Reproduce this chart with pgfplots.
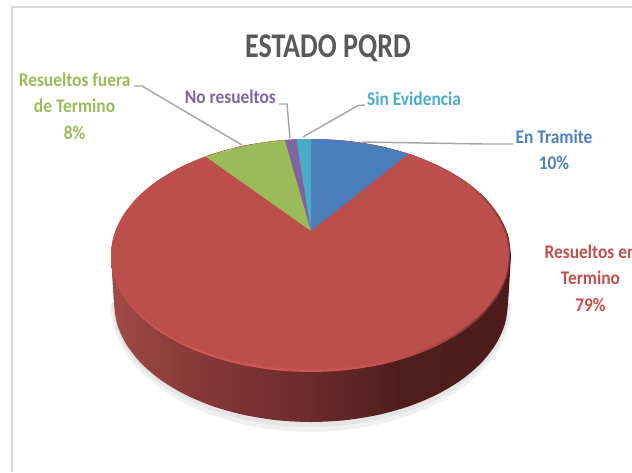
\documentclass[border=0pt]{standalone}
\usepackage{pgfplots}
\pgfplotsset{compat=1.18}
\usepackage{fontspec}
\setmainfont{Carlito}
\definecolor{cTitle}{HTML}{595959}
\definecolor{cBlue}{HTML}{4A7EBB}
\definecolor{cRed}{HTML}{BC4E4C}
\definecolor{cGreen}{HTML}{9BBB59}
\definecolor{cPurple}{HTML}{8064A2}
\definecolor{cTeal}{HTML}{4BACC6}
\definecolor{cLabBlue}{HTML}{4F81BD}
\definecolor{cLabRed}{HTML}{C0504D}
\definecolor{cLead}{HTML}{A6A6A6}
\definecolor{cFrame}{HTML}{D9D9D9}
\definecolor{sA}{RGB}{160,75,70}
\definecolor{sB}{RGB}{138,59,57}
\definecolor{sC}{RGB}{108,42,42}
\definecolor{sD}{RGB}{79,30,28}
\definecolor{sE}{RGB}{75,28,27}
\definecolor{rA}{RGB}{218,92,88}
\definecolor{rB}{RGB}{205,85,81}
\definecolor{rC}{RGB}{165,68,64}
\definecolor{rD}{RGB}{85,34,32}
\definecolor{mA}{RGB}{205,85,82}
\definecolor{mB}{RGB}{198,82,79}
\definecolor{mC}{RGB}{176,72,69}
\definecolor{mD}{RGB}{130,52,50}
\pgfdeclarehorizontalshading{sideshade}{100bp}{
 color(0bp)=(sA); color(25bp)=(sA); color(34bp)=(sB); color(50bp)=(sC); color(61bp)=(sD); color(75bp)=(sE); color(100bp)=(sE)}
\pgfdeclarehorizontalshading{rimshade}{100bp}{
 color(0bp)=(rA); color(25bp)=(rA); color(58bp)=(rB); color(66bp)=(rC); color(75bp)=(rD); color(100bp)=(rD)}
\pgfdeclarehorizontalshading{midshade}{100bp}{
 color(0bp)=(mA); color(25bp)=(mA); color(58bp)=(mB); color(66bp)=(mC); color(75bp)=(mD); color(100bp)=(mD)}
\newcommand{\lab}[5]{\node[anchor=base,text=#4,inner sep=0pt,font=\fontsize{14.5pt}{16pt}\selectfont\bfseries] at (axis cs:#1,#2) {\scalebox{#5}[1]{#3}};}
\begin{document}
\begin{tikzpicture}
\path[use as bounding box] (0,0) rectangle (474pt,354pt);
\clip (0,0) rectangle (474pt,354pt);
\begin{axis}[at={(0,0)},anchor=south west,scale only axis,width=474pt,height=354pt,
  xmin=0,xmax=632,ymin=0,ymax=472,y dir=reverse,axis lines=none,clip=false]
% frame
\addplot[cFrame,line width=1.5pt] coordinates {(12,472) (12,7) (640,7)};
% shadow
\addplot[fill=black!6,draw=none,smooth] coordinates {(512,303)(508.9,325.4)(499.9,347.1)(485.1,367.5)(465,385.9)(440.2,401.8)(411.5,414.7)(379.7,424.2)(345.9,430)(311,432)(276.1,430)(242.3,424.2)(210.5,414.7)(181.8,401.8)(157,385.9)(136.9,367.5)(122.1,347.1)(113.1,325.4)(110,303)} -- cycle;
\addplot[fill=black!10,draw=none,smooth] coordinates {(510,303)(507,324.5)(498,345.4)(483.3,365)(463.4,382.7)(438.9,398)(410.5,410.4)(379.1,419.5)(345.6,425.1)(311,427)(276.4,425.1)(242.9,419.5)(211.5,410.4)(183.1,398)(158.6,382.7)(138.7,365)(124,345.4)(115,324.5)(112,303)} -- cycle;
% side wall
\addplot[shade,shading=sideshade,draw=none,smooth] coordinates {(511,255.5)(508,303)(505,323.7)(496.1,343.7)(481.6,362.5)(461.9,379.5)(437.6,394.2)(409.5,406.1)(378.4,414.8)(345.2,420.2)(311,422)(276.8,420.2)(243.6,414.8)(212.5,406.1)(184.4,394.2)(160.1,379.5)(140.4,362.5)(125.9,343.7)(117,323.7)(114,303)(111,255.5)} -- cycle;
% rim of the top face
\addplot[shade,shading=rimshade,draw=none,smooth] coordinates {(511,255.5)(508,275.7)(498.9,295.3)(484.2,313.8)(464.2,330.4)(439.6,344.7)(411,356.4)(379.4,365)(345.7,370.2)(311,372)(276.3,370.2)(242.6,365)(211,356.4)(182.4,344.7)(157.8,330.4)(137.8,313.8)(123.1,295.3)(114,275.7)(111,255.5)(114,235.3)(123.1,215.7)(137.8,197.2)(157.8,180.6)(182.4,166.3)(211,154.6)(242.6,146)(276.3,140.8)(311,139)(345.7,140.8)(379.4,146)(411,154.6)(439.6,166.3)(464.2,180.6)(484.2,197.2)(498.9,215.7)(508,235.3)(511,255.5)};
\addplot[shade,shading=midshade,draw=none,smooth] coordinates {(311,139)(345.7,140.8)(379.4,146)(411,154.6)(439.6,166.3)(464.2,180.6)(484.2,197.2)(498.9,215.7)(508,235.3)(510,255.5)(507,275.5)(498,294.8)(483.3,313)(463.4,329.4)(438.9,343.6)(410.5,355.1)(379.1,363.6)(345.6,368.8)(311,370.5)(276.3,368.8)(242.6,363.6)(211,355.1)(182.4,343.6)(157.8,329.4)(137.8,313)(123.1,294.8)(114,275.5)(111,255.5)(114,235.3)(123.1,215.7)(137.8,197.2)(157.8,180.6)(182.4,166.3)(211,154.6)(242.6,146)(276.3,140.8)(311,139)};
% red sector: top face
\addplot[fill=cRed,draw=none,smooth] coordinates {(311,139)(345.7,140.8)(379.4,146)(411,154.6)(439.2,166.5)(463.2,180.8)(482.5,197.4)(497,215.9)(506,235.5)(509,255.5)(506,275.2)(497,294.3)(482.5,312.25)(462.7,328.5)(438.3,342.4)(410,353.8)(378.7,362.2)(345.4,367.3)(311,369)(276.3,367.3)(242.6,362.2)(211,353.8)(182.4,342.4)(157.8,328.5)(137.8,312.25)(123.1,294.3)(114,275.2)(111,255.5)(114,235.3)(123.1,215.7)(137.8,197.2)(157.8,180.6)(182.4,166.3)(211,154.6)(242.6,146)(276.3,140.8)(311,139)};
% other sectors
\addplot[fill=cBlue,draw=none] coordinates {(311,231)(311,139)(323.5,139.2)(336,139.9)(361,142.7)(386,147.5)(408.5,153.8)} -- cycle;
\addplot[fill=cGreen,draw=none] coordinates {(311,231)(205.6,156.5)(231,148.7)(261,142.7)(285,140)} -- cycle;
\addplot[fill=cPurple,draw=none] coordinates {(311,231)(285,140)(296.4,139.3)} -- cycle;
\addplot[fill=cTeal,draw=none] coordinates {(311,231)(296.4,139.3)(311,139)} -- cycle;
% leader lines
\addplot[cLead,line width=1.1pt] coordinates {(134,86)(142,86)(242,145)};
\addplot[cLead,line width=1.1pt] coordinates {(279,104)(287,104)(290,138)};
\addplot[cLead,line width=1.1pt] coordinates {(365,105)(358,105.5)(303,137)};
\addplot[cLead,line width=1.1pt] coordinates {(513,144)(484,144)(362,142)};
% texts
\node[anchor=base,text=cTitle,inner sep=0pt,font=\fontsize{26pt}{28pt}\selectfont\bfseries] at (axis cs:328,57) {\scalebox{0.81}[1]{ESTADO PQRD}};
\lab{74.6}{86}{Resueltos fuera}{cGreen}{0.9}
\lab{74.6}{112}{de Termino}{cGreen}{0.9}
\lab{74.6}{139}{8\%}{cGreen}{0.9}
\lab{230.4}{103.7}{No resueltos}{cPurple}{0.9}
\lab{414}{105.5}{Sin Evidencia}{cTeal}{0.9}
\lab{554}{143.3}{En Tramite}{cLabBlue}{0.9}
\lab{554}{169}{10\%}{cLabBlue}{0.9}
\lab{590.5}{258.3}{Resueltos en}{cLabRed}{0.9}
\lab{590.5}{284}{Termino}{cLabRed}{0.9}
\lab{590.5}{311.7}{79\%}{cLabRed}{0.9}
\end{axis}
\end{tikzpicture}
\end{document}
